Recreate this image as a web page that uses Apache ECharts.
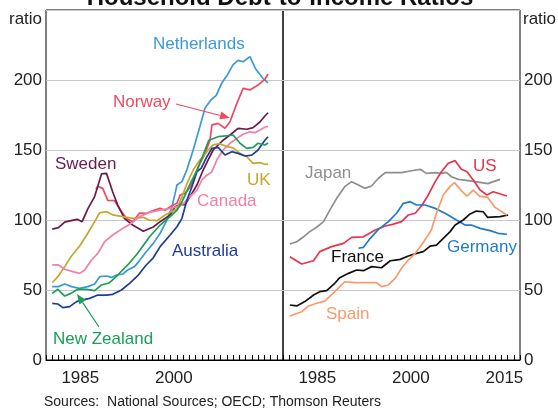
<!DOCTYPE html>
<html><head><meta charset="utf-8">
<script src="https://cdn.jsdelivr.net/npm/echarts@6/dist/echarts.min.js"></script>
<style>html,body{margin:0;padding:0;background:#fff}#c{width:558px;height:412px}</style>
</head><body><div id="c"></div>
<script>
// ---- data (year, ratio) ----
const netherlands = [[1981,52.4],[1982,52.4],[1983,54.3],[1984.1,52.4],[1985.4,51.2],[1986.7,52.4],[1987.8,54.3],[1988.6,59.5],[1989.7,60],[1990.5,59],[1991.3,60.7],[1992.3,61.4],[1993.1,64.3],[1994.2,66.7],[1995,71],[1996,77],[1997.2,83.3],[1998.3,90.5],[1999.4,100],[2000.2,109.5],[2000.7,119],[2001,125],[2001.8,127.4],[2002.6,136],[2003.6,150],[2004.5,164],[2005.5,180],[2006.5,186],[2007.3,189],[2008.2,198],[2009,203],[2010,211],[2010.8,214],[2011.6,213],[2012.7,216.7],[2013.6,208],[2014.8,201],[2015.6,198]];
const norway = [[1988,122],[1988.3,124],[1989.1,122.6],[1989.9,114],[1991,113.8],[1991.8,108],[1992.9,101],[1993.9,98.8],[1995,105],[1996.1,104.8],[1997.2,106.7],[1998.3,108.3],[1999.1,107],[1999.9,109.5],[2001,112],[2001.5,117.9],[2002.3,119],[2003.2,124],[2003.9,132],[2004.7,140.5],[2005.5,147.6],[2006.3,157],[2006.6,167.9],[2007.6,169],[2008.7,165.5],[2009.5,170.2],[2010.6,183.3],[2011.6,194],[2012.7,192.9],[2014,196.4],[2015.1,200.5],[2015.6,204.3]];
const sweden = [[1981,93.5],[1982,94.5],[1983,98.5],[1984,99.5],[1985,100.5],[1985.8,98.8],[1986.7,108],[1987.8,116.7],[1988.9,132.9],[1989.7,133.3],[1990.7,120],[1991.5,110.7],[1992.6,101],[1993.9,96.4],[1995.6,92],[1997.2,95],[1998.3,98.8],[1999.9,103.6],[2000.7,109.5],[2001.5,111],[2002.3,111],[2003.1,116.7],[2004.2,125],[2005.2,135.7],[2006,143],[2006.8,150],[2008.4,157],[2009.5,160.7],[2010.8,165.5],[2012.2,164.8],[2013.2,166],[2014.3,170],[2015.1,174.3],[2015.6,176.6]];
const uk = [[1981,55.2],[1981.9,59.5],[1983,66.7],[1984,73.8],[1985.4,81.4],[1986.7,90.5],[1987.8,98.8],[1988.6,105.2],[1989.7,106],[1990.7,103.6],[1992.3,102.4],[1993.9,101.2],[1995.6,101.9],[1996.5,100],[1997.8,99.5],[1999.1,103.6],[2000.2,106],[2001,108],[2001.8,116.7],[2002.6,126],[2003.6,135.7],[2004.7,143],[2005.2,145],[2006,150],[2006.8,153.6],[2007.9,154.5],[2009,152.4],[2010,151.5],[2011.1,147.6],[2012.2,145.2],[2013.2,140.5],[2014.3,141],[2015.1,139.8],[2015.6,140]];
const canada = [[1981,67.9],[1982,67.9],[1983,64.8],[1984.3,63.1],[1985.4,61.9],[1986.2,64.3],[1987.3,71.4],[1988.3,76.2],[1989.4,84.5],[1990.7,89.3],[1992.3,94],[1993.7,97.6],[1995,102.4],[1996.6,105.5],[1998.3,107],[1999.9,108.3],[2001,109.5],[2001.8,110.7],[2003.1,116.7],[2004.2,121.4],[2005,128.6],[2005.8,132],[2006.6,134.5],[2007.4,143],[2008.4,150],[2009.5,154.8],[2010.6,158.3],[2011.6,161.2],[2012.7,163],[2013.5,162.4],[2014.3,164.3],[2015.1,166.2],[2015.6,167]];
const australia = [[1981,40.5],[1981.9,40],[1982.7,37.4],[1983.8,38.1],[1984.9,41.7],[1985.9,42.9],[1987,44],[1988.3,46.4],[1989.7,46.4],[1990.7,46.9],[1992.1,50],[1993.4,54.8],[1994.8,60.7],[1996,67.5],[1997.2,73],[1998.3,81],[1999.9,89.3],[2001,95.2],[2001.8,101.2],[2002.6,114.3],[2003.4,123.8],[2004.2,134.5],[2004.9,137],[2005.8,145.2],[2006.6,151.2],[2007.6,151.9],[2008.7,146.4],[2009.8,148.8],[2010.8,147.6],[2011.9,145.7],[2013,146.4],[2014,150],[2015.1,157],[2015.6,159.5]];
const newZealand = [[1981,47.6],[1981.9,50.5],[1983,45.7],[1984,47.6],[1985.1,50.5],[1986.5,50.5],[1987.8,49.5],[1988.9,53.6],[1990.2,55.2],[1991.5,60.7],[1993.1,67.9],[1994.7,76.2],[1996.6,88],[1998.3,96.4],[1999.9,102.4],[2001,107],[2001.8,113],[2002.9,123.8],[2004.2,135.7],[2005.3,147.6],[2006.1,157],[2007.6,159.5],[2009,160.2],[2010,160.7],[2011.1,154.8],[2012.2,151.2],[2013.2,151.9],[2014,154.8],[2015.1,153.6],[2015.6,155]];
const japan = [[1981.1,82.9],[1982.2,84.5],[1983.3,88],[1984.3,91.7],[1985.4,94.8],[1986.5,98.8],[1987.5,107],[1988.6,115.5],[1989.9,123.8],[1991,127.4],[1992.1,125],[1993.1,122.6],[1994.2,124.3],[1995.3,129.8],[1996.4,133.8],[1997.4,133.8],[1999,133.8],[2000.6,135.2],[2002,136.2],[2003,133.3],[2004.4,133.8],[2005.4,133.3],[2006.2,134],[2007,130.9],[2008.1,129],[2009.7,128.1],[2011.3,127.1],[2012.9,126],[2013.7,127.4],[2014.8,129]];
const us = [[1981.1,73.8],[1983,68.6],[1984.9,70.9],[1985.9,77.4],[1987.8,81],[1989.7,83.3],[1991,87.6],[1992.9,88],[1994.8,92.9],[1996.4,95.7],[1997.7,97.1],[1999,98.8],[2000.1,103.6],[2001.2,104.8],[2002.2,110],[2003.3,117.9],[2004.4,127.4],[2005.4,134.5],[2006.5,140.5],[2007.6,142.4],[2008.6,136.2],[2009.5,134.5],[2010.5,128.6],[2011.6,121.4],[2012.7,117.9],[2013.7,120.2],[2015.9,117.1]];
const germany = [[1992.1,79.8],[1992.9,80.5],[1994,86.9],[1995.3,93.3],[1996.9,98.8],[1998.2,104.8],[1999.3,111.9],[2000.4,113.1],[2001.4,110.7],[2002.8,110.7],[2004.4,108.3],[2006.2,104.3],[2007.8,100],[2009.2,96.4],[2010.2,96.4],[2011.6,94],[2013.2,92.4],[2014.5,90.5],[2015.9,89.8]];
const france = [[1981.1,39.3],[1982.2,38.6],[1983.5,41.7],[1984.9,46.4],[1985.9,48.8],[1987,49.5],[1988.3,54.8],[1989.1,58.8],[1990.5,61.9],[1991.8,64.3],[1992.9,63.8],[1994.2,66.7],[1995.8,65.9],[1997.2,70.9],[1998,71.4],[1998.8,71.9],[2000.1,74.3],[2001.4,76.2],[2002.5,77.4],[2003.6,81.4],[2004.6,82.1],[2005.7,86.9],[2006.8,91.7],[2007.6,96.4],[2008.9,100],[2010,104.3],[2011,106.4],[2012.1,105.9],[2012.8,101.9],[2014.8,102.4],[2016.1,103.6]];
const spain = [[1981.1,31.4],[1983,34.5],[1984.1,38.6],[1985.4,40.5],[1986.7,42.1],[1988.3,48.8],[1989.9,55.9],[1991.5,55.2],[1993.4,55.2],[1995,55.2],[1995.8,52.4],[1996.9,53.6],[1998,58.3],[1999,65.5],[2000.1,71.4],[2001.2,76.2],[2002.2,82.1],[2003.3,89.3],[2003.8,93],[2004.6,104.8],[2005.7,117.9],[2006.8,124],[2007.5,126.7],[2008.5,121.4],[2009.5,117.1],[2010.5,121.4],[2011.5,117.1],[2012.8,116.2],[2014,109],[2015.9,103.6]];

const yearCategories = Array.from({length: 38}, (_, i) => String(1980 + i));
const leftTickLabels = ['1985', '2000'];
const rightTickLabels = ['1985', '2000', '2015'];
const yTicks = [0, 50, 100, 150, 200];

const FONT = '"Liberation Sans", Arial, sans-serif';
const chart = echarts.init(document.getElementById('c'), null, {renderer: 'canvas'});

const leftSeries = [
  ['Netherlands', netherlands, '#3a9ad9'],
  ['Norway', norway, '#ee4a60'],
  ['Sweden', sweden, '#6b1a4c'],
  ['UK', uk, '#c6a62c'],
  ['Canada', canada, '#f47ea8'],
  ['Australia', australia, '#1e3d98'],
  ['New Zealand', newZealand, '#1a9e58']
];
const rightSeries = [
  ['Japan', japan, '#8e8e8e'],
  ['US', us, '#e8344c'],
  ['Germany', germany, '#1f7acb'],
  ['France', france, '#111111'],
  ['Spain', spain, '#f89a6a']
];

function lineSeries(list, xi, yi) {
  return list.map(([name, data, color]) => ({
    name, type: 'line', data, xAxisIndex: xi, yAxisIndex: yi,
    showSymbol: false, symbol: 'none', silent: true,
    lineStyle: {color, width: 1.7}, z: 3
  }));
}

function catAxis(gi, labels) {
  return {
    type: 'category', gridIndex: gi, data: yearCategories, boundaryGap: true, position: 'bottom',
    axisLine: {show: true, lineStyle: {color: '#000', width: 1}},
    axisTick: {show: true, inside: true, length: 5, interval: 0, alignWithLabel: false, lineStyle: {color: '#000'}},
    axisLabel: {interval: (i, v) => labels.includes(v), fontSize: 17, color: '#222', fontFamily: FONT, margin: 10},
    splitLine: {show: false}
  };
}
function valX(gi) {
  return {type: 'value', gridIndex: gi, min: 1980, max: 2018, show: false};
}
function yAx(gi, pos) {
  return {
    type: 'value', gridIndex: gi, min: 0, max: 250, interval: 50, position: pos,
    axisLine: {show: false}, axisTick: {show: false},
    splitLine: {show: true, lineStyle: {color: '#c8c8c8', width: 1}},
    axisLabel: {formatter: v => yTicks.includes(v) ? String(v) : '', fontSize: 17, color: '#222', fontFamily: FONT, margin: 4}
  };
}

function txt(text, x, y, color, size, extra) {
  return Object.assign({type: 'text', x, y, z: 50, silent: true,
    style: {text, fill: color, font: (size || 17) + 'px ' + FONT, align: 'left', verticalAlign: 'middle'}}, extra || {});
}
function arrow(x1, y1, x2, y2, color) {
  const dx = x2 - x1, dy = y2 - y1, L = Math.hypot(dx, dy);
  const ux = dx / L, uy = dy / L, hl = 10, hw = 4;
  const bx = x2 - ux * hl, by = y2 - uy * hl;
  return [
    {type: 'line', z: 50, silent: true, shape: {x1, y1, x2: bx, y2: by}, style: {stroke: color, lineWidth: 1.2}},
    {type: 'polygon', z: 50, silent: true, shape: {points: [[x2, y2], [bx - uy * hw, by + ux * hw], [bx + uy * hw, by - ux * hw]]}, style: {fill: color}}
  ];
}

const option = {
  animation: false,
  backgroundColor: '#fff',
  grid: [
    {left: 46, top: 10, width: 237, height: 350, show: true, borderColor: '#000', borderWidth: 1, backgroundColor: 'transparent'},
    {left: 283, top: 10, width: 237, height: 350, show: true, borderColor: '#000', borderWidth: 1, backgroundColor: 'transparent'}
  ],
  xAxis: [catAxis(0, leftTickLabels), valX(0), catAxis(1, rightTickLabels), valX(1)],
  yAxis: [yAx(0, 'left'), yAx(1, 'right')],
  series: [...lineSeries(leftSeries, 1, 0), ...lineSeries(rightSeries, 3, 1)],
  graphic: [
    {type: 'text', x: 280, y: 10, z: 50, style: {text: 'Household Debt-to-Income Ratios', fill: '#111', font: 'bold 24px ' + FONT, align: 'center', verticalAlign: 'bottom'}},
    txt('ratio', 9, 19, '#222', 17),
    txt('ratio', 523, 19, '#222', 17),
    txt('Netherlands', 153, 44, '#3a9ad9'),
    txt('Norway', 113, 102, '#ee4a60'),
    txt('Sweden', 55, 164, '#6b1a4c'),
    txt('UK', 247, 180, '#c6a62c'),
    txt('Canada', 197, 201, '#f47ea8'),
    txt('Australia', 172, 251, '#1e3d98'),
    txt('New Zealand', 53, 339, '#1a9e58'),
    txt('Japan', 305, 173, '#8e8e8e'),
    txt('US', 473, 166, '#e8344c'),
    txt('Germany', 447, 247, '#1f7acb'),
    txt('France', 331, 257, '#111111'),
    txt('Spain', 326, 314, '#f89a6a'),
    ...arrow(176, 104, 230, 118, '#ee4a60'),
    ...arrow(99, 327, 77, 294, '#1a9e58'),
    txt('Sources:  National Sources; OECD; Thomson Reuters', 44, 402, '#222', 14)
  ]
};
chart.setOption(option);
</script>
</body></html>
